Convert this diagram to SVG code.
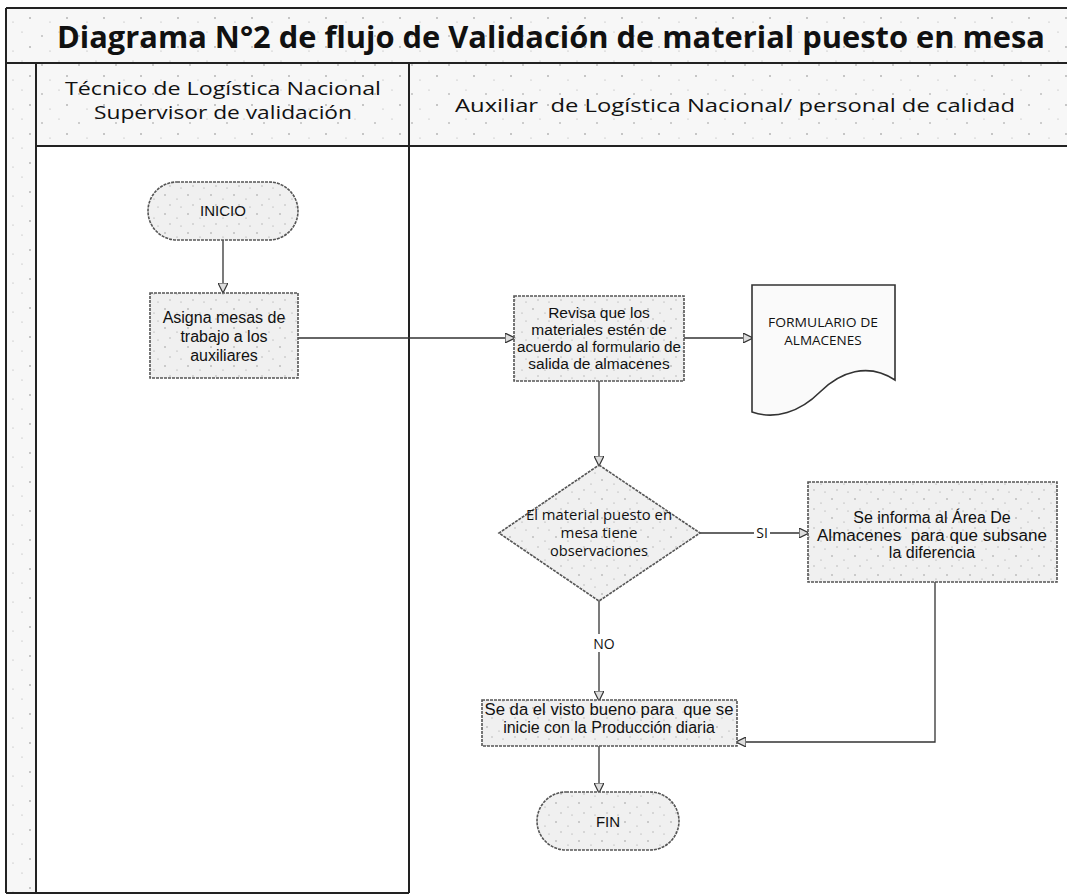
<svg xmlns="http://www.w3.org/2000/svg" width="1067" height="896" viewBox="0 0 1067 896">
<style>
.frame{fill:none;stroke:#222;stroke-width:2}
.band{fill:url(#speck)}
.node{fill:url(#speck2);stroke:#555;stroke-width:1.6;stroke-dasharray:3 1}
.t{font-family:"Liberation Sans",Arial,sans-serif;font-size:16px;fill:#111;text-anchor:middle;white-space:pre}
.c{font-family:"Open Sans","Noto Sans",sans-serif;fill:#111;text-anchor:middle;white-space:pre}
.conn{fill:none;stroke:#333;stroke-width:1.3}
</style>
<defs>
<pattern id="speck" width="37" height="29" patternUnits="userSpaceOnUse">
<rect width="37" height="29" fill="#f7f7f7"/>
<circle cx="5" cy="7" r="0.8" fill="#999"/>
<circle cx="22" cy="3" r="0.6" fill="#aaa"/>
<circle cx="30" cy="18" r="0.8" fill="#888"/>
<circle cx="13" cy="22" r="0.6" fill="#aaa"/>
</pattern>
<pattern id="speck2" width="23" height="19" patternUnits="userSpaceOnUse">
<rect width="23" height="19" fill="#f0f0f0"/>
<circle cx="4" cy="5" r="0.7" fill="#888"/>
<circle cx="16" cy="9" r="0.6" fill="#999"/>
<circle cx="9" cy="15" r="0.7" fill="#aaa"/>
<circle cx="20" cy="17" r="0.5" fill="#888"/>
</pattern>
<marker id="arr" viewBox="0 0 10 10" refX="9" refY="5" markerWidth="10" markerHeight="10" markerUnits="userSpaceOnUse" orient="auto">
<path d="M0,0 L10,5 L0,10 Z" fill="#ddd" stroke="#333" stroke-width="1.2"/>
</marker>
</defs>
<rect x="6" y="8" width="1070" height="885" fill="#fff"/>
<rect x="6" y="8" width="1070" height="138" class="band"/>
<rect x="6" y="146" width="30" height="747" class="band"/>
<g id="frame">
<line x1="6" y1="8" x2="1067" y2="8" class="frame"/>
<line x1="6" y1="63" x2="1067" y2="63" class="frame"/>
<line x1="36" y1="146" x2="1067" y2="146" class="frame"/>
<line x1="6" y1="8" x2="6" y2="893" class="frame"/>
<line x1="36" y1="63" x2="36" y2="893" class="frame"/>
<line x1="409" y1="63" x2="409" y2="893" class="frame"/>
<line x1="6" y1="893" x2="409" y2="893" class="frame"/>
</g>
<g id="title">
<text x="551" y="48" class="c" style="font-size:30px;font-weight:bold" textLength="988" lengthAdjust="spacingAndGlyphs">Diagrama N°2 de flujo de Validación de material puesto en mesa</text>
</g>
<g id="lane1">
<text x="223" y="95" class="c" style="font-size:17.5px" textLength="316" lengthAdjust="spacingAndGlyphs">Técnico de Logística Nacional</text>
<text x="223" y="119" class="c" style="font-size:17.5px" textLength="258" lengthAdjust="spacingAndGlyphs">Supervisor de validación</text>
</g>
<g id="lane2">
<text x="735" y="112" class="c" style="font-size:19px" textLength="560" lengthAdjust="spacingAndGlyphs">Auxiliar  de Logística Nacional/ personal de calidad</text>
</g>
<g id="connectors">
<line x1="223" y1="240" x2="223" y2="292" class="conn" marker-end="url(#arr)"/>
<line x1="298" y1="338" x2="514" y2="338" class="conn" marker-end="url(#arr)"/>
<line x1="684" y1="338" x2="752" y2="338" class="conn" marker-end="url(#arr)"/>
<line x1="599" y1="381" x2="599" y2="465" class="conn" marker-end="url(#arr)"/>
<line x1="700" y1="533" x2="754" y2="533" class="conn"/>
<line x1="770" y1="533" x2="808" y2="533" class="conn" marker-end="url(#arr)"/>
<text x="762" y="538" class="c" style="font-size:14px">SI</text>
<line x1="599" y1="601" x2="599" y2="634" class="conn"/>
<line x1="599" y1="652" x2="599" y2="700" class="conn" marker-end="url(#arr)"/>
<text x="604" y="649" class="c" style="font-size:14px">NO</text>
<polyline points="935,582 935,742 737,742" class="conn" marker-end="url(#arr)"/>
<line x1="599" y1="746" x2="599" y2="792" class="conn" marker-end="url(#arr)"/>
</g>
<g id="inicio">
<rect x="148" y="182" width="150" height="58" rx="29" class="node"/>
<text x="223" y="216" class="t" style="font-size:15px">INICIO</text>
</g>
<g id="asigna">
<rect x="150" y="293" width="148" height="85" class="node"/>
<text x="224" y="323" class="t">Asigna mesas de</text>
<text x="224" y="342" class="t">trabajo a los</text>
<text x="224" y="361" class="t">auxiliares</text>
</g>
<g id="revisa">
<rect x="514" y="296" width="170" height="85" class="node"/>
<text x="599" y="318" class="t" style="font-size:15.5px">Revisa que los</text>
<text x="599" y="335" class="t" style="font-size:15.5px">materiales estén de</text>
<text x="599" y="352" class="t" style="font-size:15.5px" textLength="164" lengthAdjust="spacingAndGlyphs">acuerdo al formulario de</text>
<text x="599" y="369" class="t" style="font-size:15.5px">salida de almacenes</text>
</g>
<g id="formulario">
<path d="M752,285 H895 V380 C868,362 840,372 820,392 C800,412 775,420 752,412 Z" class="node" style="fill:#fafafa;stroke-dasharray:none;stroke:#333"/>
<text x="823" y="327" class="c" style="font-size:13.5px" textLength="110" lengthAdjust="spacingAndGlyphs">FORMULARIO DE</text>
<text x="823" y="345" class="c" style="font-size:13.5px">ALMACENES</text>
</g>
<g id="decision">
<polygon points="599,465 700,533 599,601 499,533" class="node"/>
<text x="599" y="520" class="c" style="font-size:15px" textLength="146" lengthAdjust="spacingAndGlyphs">El material puesto en</text>
<text x="599" y="538" class="c" style="font-size:15px">mesa tiene</text>
<text x="599" y="556" class="c" style="font-size:15px" textLength="98" lengthAdjust="spacingAndGlyphs">observaciones</text>
</g>
<g id="informa">
<rect x="808" y="482" width="249" height="100" class="node"/>
<text x="932" y="523" class="t">Se informa al Área De</text>
<text x="932" y="541" class="t" textLength="230" lengthAdjust="spacingAndGlyphs">Almacenes  para que subsane</text>
<text x="932" y="558" class="t">la diferencia</text>
</g>
<g id="visto">
<rect x="482" y="700" width="255" height="46" class="node"/>
<text x="609" y="715" class="t" textLength="249" lengthAdjust="spacingAndGlyphs">Se da el visto bueno para  que se</text>
<text x="609" y="733" class="t">inicie con la Producción diaria</text>
</g>
<g id="fin">
<rect x="537" y="792" width="142" height="58" rx="29" class="node"/>
<text x="608" y="827" class="t" style="font-size:15px">FIN</text>
</g>
</svg>
